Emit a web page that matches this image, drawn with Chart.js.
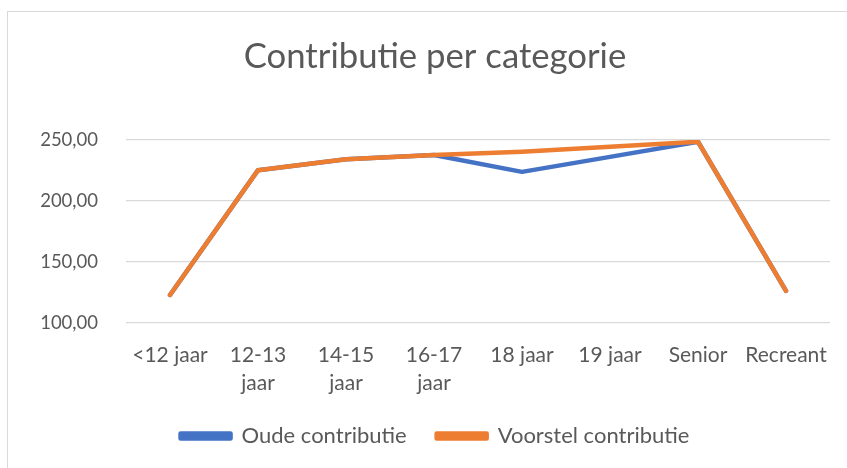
<!DOCTYPE html>
<html>
<head>
<meta charset="utf-8">
<script src="https://cdn.jsdelivr.net/npm/chart.js@4"></script>
<style>
  html, body { margin: 0; padding: 0; background: #fff; overflow: hidden; }
  #wrap { position: relative; width: 847px; height: 468px; overflow: hidden; }
  #frame { position: absolute; left: 7px; top: 11px; width: 900px; height: 500px; border: 1px solid #d9d9d9; box-sizing: border-box; }
  #c { position: absolute; left: 0; top: 0; }
</style>
</head>
<body>
<div id="wrap">
  <div id="frame"></div>
  <canvas id="c" width="847" height="468"></canvas>
</div>
<script>
const categories = ['<12 jaar', ['12-13', 'jaar'], ['14-15', 'jaar'], ['16-17', 'jaar'], '18 jaar', '19 jaar', 'Senior', 'Recreant'];
const oudeContributie = [123.0, 225.3, 234.3, 237.8, 223.9, 236.2, 248.6, 126.4];
const voorstelContributie = [123.0, 225.3, 234.3, 237.8, 240.4, 244.5, 248.6, 126.4];
const yTicks = [100, 150, 200, 250];
const seriesNames = ['Oude contributie', 'Voorstel contributie'];
const titleText = 'Contributie per categorie';

const FONT = 'Lato, "Open Sans", sans-serif';
const GREY = '#595959';

new Chart(document.getElementById('c'), {
  type: 'line',
  data: {
    labels: categories,
    datasets: [
      { label: seriesNames[0], data: oudeContributie, borderColor: '#4472C4', backgroundColor: '#4472C4', order: 2 },
      { label: seriesNames[1], data: voorstelContributie, borderColor: '#ED7D31', backgroundColor: '#ED7D31', order: 1 }
    ]
  },
  options: {
    responsive: false,
    animation: false,
    devicePixelRatio: 1,
    layout: { padding: { top: 0, right: 17, bottom: 11, left: 40 } },
    elements: {
      line: { borderWidth: 4.5, borderCapStyle: 'round', borderJoinStyle: 'round', tension: 0 },
      point: { radius: 0, hoverRadius: 0 }
    },
    plugins: {
      title: {
        display: true,
        text: titleText,
        color: GREY,
        font: { family: FONT, size: 34.7, weight: 'normal', lineHeight: 1.2 },
        padding: { top: 36, bottom: 62.4 }
      },
      legend: {
        position: 'bottom',
        labels: {
          color: GREY,
          font: { family: FONT, size: 22 },
          boxWidth: 50,
          boxHeight: 5,
          padding: 30,
          sort: (a, b) => a.datasetIndex - b.datasetIndex
        }
      },
      tooltip: { enabled: false }
    },
    scales: {
      x: {
        offset: true,
        grid: { display: false, drawTicks: false, offset: true },
        border: { display: false },
        ticks: { color: GREY, font: { family: FONT, size: 21, lineHeight: 1.35 }, padding: 18, maxRotation: 0, autoSkip: false },
        afterFit: (s) => { s.height = 72; }
      },
      y: {
        min: yTicks[0],
        max: yTicks[yTicks.length - 1],
        afterBuildTicks: (s) => { s.ticks = yTicks.map(v => ({ value: v })); },
        grid: { color: '#d9d9d9', lineWidth: 1.3, drawTicks: false },
        border: { display: false },
        ticks: {
          color: GREY,
          font: { family: FONT, size: 18.5 },
          padding: 28,
          callback: (v) => Number(v).toFixed(2).replace('.', ',')
        },
        afterFit: (s) => { s.width = 86; }
      }
    }
  }
});
</script>
</body>
</html>
